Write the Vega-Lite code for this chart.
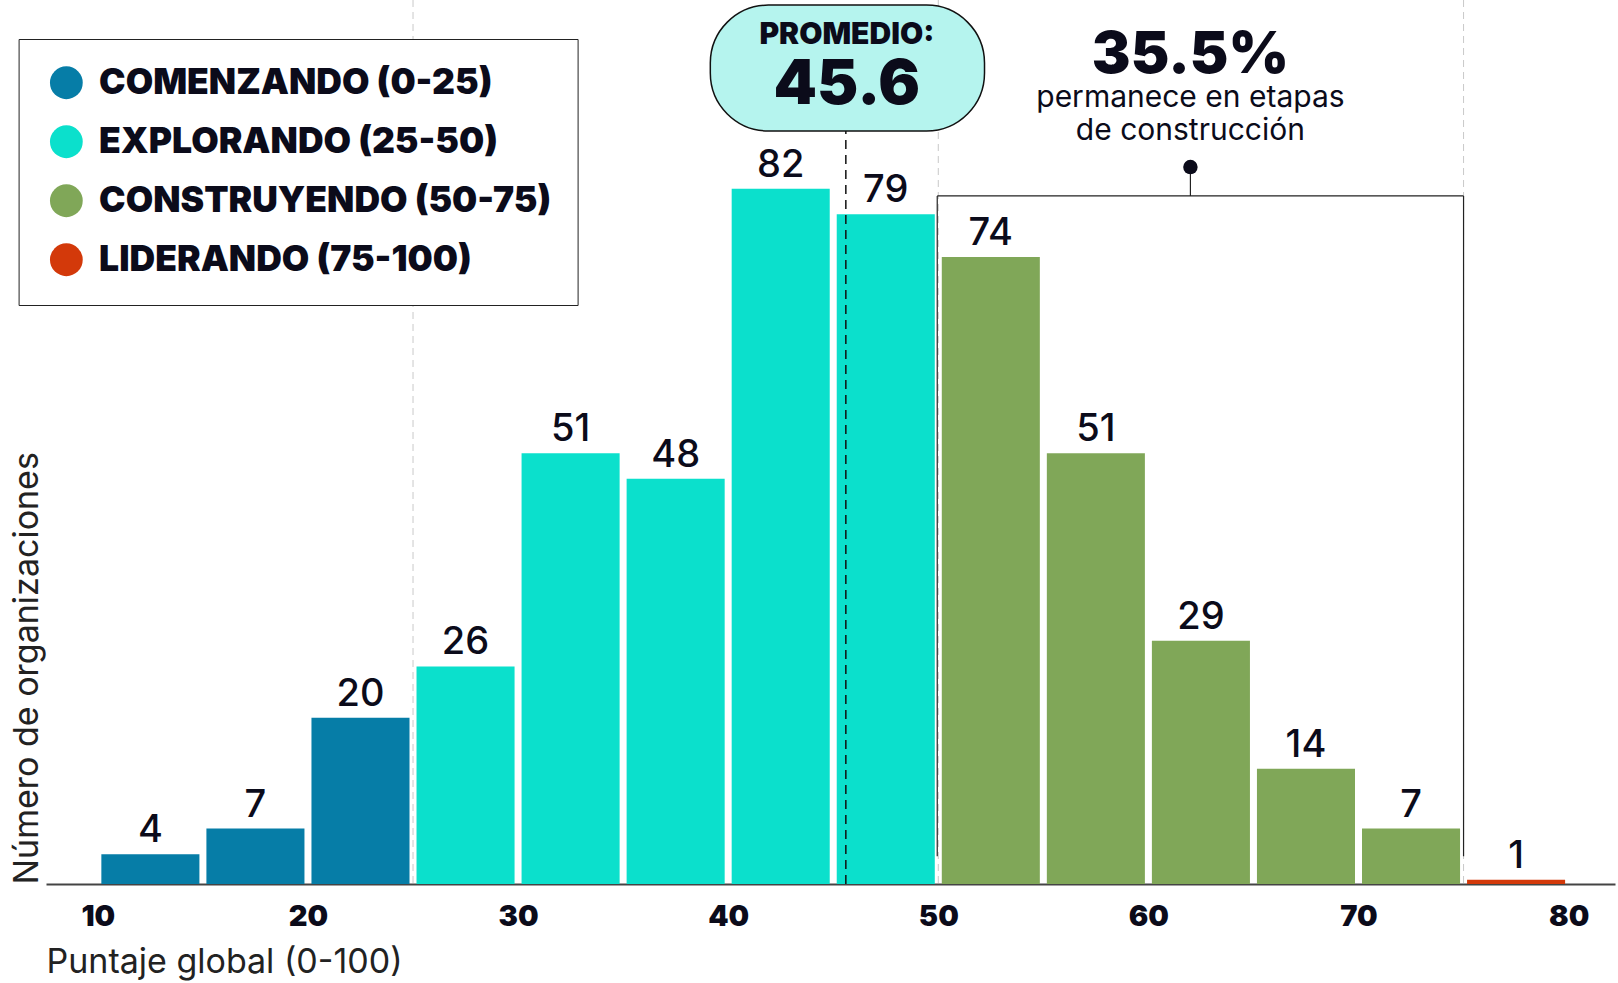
{
  "$schema": "https://vega.github.io/schema/vega-lite/v6.json",
  "autosize": {"type": "none"},
  "width": 1569,
  "height": 884,
  "padding": {"left": 46, "top": 0, "right": 3, "bottom": 99},
  "background": "white",
  "config": {
    "view": {"stroke": null},
    "font": "Inter",
    "text": {"font": "Inter", "color": "#0b0b1a"}
  },
  "datasets": {
    "bins": [
      {"inicio": 10, "fin": 15, "n": 4, "etapa": "COMENZANDO (0-25)"},
      {"inicio": 15, "fin": 20, "n": 7, "etapa": "COMENZANDO (0-25)"},
      {"inicio": 20, "fin": 25, "n": 20, "etapa": "COMENZANDO (0-25)"},
      {"inicio": 25, "fin": 30, "n": 26, "etapa": "EXPLORANDO (25-50)"},
      {"inicio": 30, "fin": 35, "n": 51, "etapa": "EXPLORANDO (25-50)"},
      {"inicio": 35, "fin": 40, "n": 48, "etapa": "EXPLORANDO (25-50)"},
      {"inicio": 40, "fin": 45, "n": 82, "etapa": "EXPLORANDO (25-50)"},
      {"inicio": 45, "fin": 50, "n": 79, "etapa": "EXPLORANDO (25-50)"},
      {"inicio": 50, "fin": 55, "n": 74, "etapa": "CONSTRUYENDO (50-75)"},
      {"inicio": 55, "fin": 60, "n": 51, "etapa": "CONSTRUYENDO (50-75)"},
      {"inicio": 60, "fin": 65, "n": 29, "etapa": "CONSTRUYENDO (50-75)"},
      {"inicio": 65, "fin": 70, "n": 14, "etapa": "CONSTRUYENDO (50-75)"},
      {"inicio": 70, "fin": 75, "n": 7, "etapa": "CONSTRUYENDO (50-75)"},
      {"inicio": 75, "fin": 80, "n": 1, "etapa": "LIDERANDO (75-100)"}
    ],
    "cortes": [{"v": 25}, {"v": 50}, {"v": 75}],
    "uno": [{}]
  },
  "layer": [
    {
      "data": {"name": "bins"},
      "mark": {"type": "bar", "orient": "vertical", "xOffset": 3.5, "x2Offset": -3.5},
      "encoding": {
        "x": {
          "field": "inicio", "type": "quantitative",
          "scale": {"domain": [7.77, 81.97], "nice": false, "zero": false},
          "axis": {
            "values": [10, 20, 30, 40, 50, 60, 70, 80],
            "ticks": false, "grid": false,
            "domainColor": "#444", "domainWidth": 2,
            "labelFontSize": 29, "labelFontWeight": 900, "labelColor": "#0b0b1a", "labelFont": "Inter",
            "labelPadding": 18,
            "title": "Puntaje global (0-100)",
            "titleFont": "Inter", "titleFontSize": 34, "titleFontWeight": 400, "titleColor": "#222",
            "titleAnchor": "start", "titlePadding": 14
          }
        },
        "x2": {"field": "fin"},
        "y": {
          "field": "n", "type": "quantitative",
          "scale": {"domain": [0.5, 104.12], "nice": false, "zero": false},
          "axis": {
            "labels": false, "ticks": false, "domain": false, "grid": false,
            "title": "Número de organizaciones",
            "titleFont": "Inter", "titleFontSize": 34, "titleFontWeight": 400, "titleColor": "#222",
            "titleAnchor": "start", "titlePadding": 2
          }
        },
        "y2": {"datum": 0.5},
        "color": {
          "field": "etapa", "type": "nominal",
          "scale": {
            "domain": ["COMENZANDO (0-25)", "EXPLORANDO (25-50)", "CONSTRUYENDO (50-75)", "LIDERANDO (75-100)"],
            "range": ["#067da7", "#0be0cc", "#80a758", "#d3390a"]
          },
          "legend": {
            "orient": "none", "legendX": -27.4, "legendY": 39,
            "title": null,
            "fillColor": "white", "strokeColor": "#222",
            "padding": 26,
            "symbolOffset": 4,
            "symbolType": "circle", "symbolSize": 1075, "symbolStrokeWidth": 0, "symbolOpacity": 1,
            "labelFont": "Inter", "labelFontSize": 35.5, "labelFontWeight": 900, "labelColor": "#0b0b1a",
            "labelOffset": 15, "rowPadding": 22, "labelLimit": 700
          }
        }
      }
    },
    {
      "data": {"name": "cortes"},
      "mark": {"type": "rule", "color": "#c9c9c9", "strokeWidth": 1, "strokeDash": [7, 5]},
      "encoding": {
        "x": {"field": "v", "type": "quantitative"}
      }
    },
    {
      "data": {"name": "bins"},
      "transform": [{"calculate": "(datum.inicio + datum.fin) / 2", "as": "centro"}],
      "mark": {"type": "text", "fontSize": 38, "fontWeight": 500, "baseline": "alphabetic", "dy": -12, "align": "center"},
      "encoding": {
        "x": {"field": "centro", "type": "quantitative"},
        "y": {"field": "n", "type": "quantitative"},
        "text": {"field": "n", "type": "quantitative"}
      }
    },
    {
      "data": {"name": "uno"},
      "mark": {"type": "rule", "color": "#111", "strokeWidth": 1.5, "strokeDash": [9, 6]},
      "encoding": {"x": {"datum": 45.6}, "y": {"datum": 0.5}, "y2": {"datum": 88.77}}
    },
    {
      "data": {"name": "uno"},
      "mark": {"type": "rule", "color": "#222", "strokeWidth": 1.2},
      "encoding": {"x": {"datum": 49.95}, "y": {"datum": 3.76}, "y2": {"datum": 81.15}}
    },
    {
      "data": {"name": "uno"},
      "mark": {"type": "rule", "color": "#222", "strokeWidth": 1.2},
      "encoding": {"x": {"datum": 75}, "y": {"datum": 3.76}, "y2": {"datum": 81.15}}
    },
    {
      "data": {"name": "uno"},
      "mark": {"type": "rule", "color": "#222", "strokeWidth": 1.2},
      "encoding": {"x": {"datum": 49.95}, "x2": {"datum": 75}, "y": {"datum": 81.15}}
    },
    {
      "data": {"name": "uno"},
      "mark": {"type": "rule", "color": "#222", "strokeWidth": 1.2},
      "encoding": {"x": {"datum": 62}, "y": {"datum": 81.15}, "y2": {"datum": 84.54}}
    },
    {
      "data": {"name": "uno"},
      "mark": {"type": "point", "filled": true, "color": "#0b0b1a", "opacity": 1, "size": 210, "shape": "circle"},
      "encoding": {"x": {"datum": 62}, "y": {"datum": 84.54}}
    },
    {
      "data": {"name": "uno"},
      "mark": {"type": "rect", "fill": "#b5f4ee", "stroke": "#111", "strokeWidth": 1.5, "cornerRadius": 58},
      "encoding": {"x": {"datum": 39.15}, "x2": {"datum": 52.2}, "y": {"datum": 88.77}, "y2": {"datum": 103.52}}
    },
    {
      "data": {"name": "uno"},
      "mark": {"type": "text", "text": "PROMEDIO:", "fontSize": 30, "fontWeight": 900, "baseline": "middle", "align": "center"},
      "encoding": {"x": {"datum": 45.65}, "y": {"datum": 100.0}}
    },
    {
      "data": {"name": "uno"},
      "mark": {"type": "text", "text": "45.6", "fontSize": 62, "fontWeight": 900, "baseline": "middle", "align": "center"},
      "encoding": {"x": {"datum": 45.65}, "y": {"datum": 94.1}}
    },
    {
      "data": {"name": "uno"},
      "mark": {"type": "text", "text": "35.5%", "fontSize": 58, "fontWeight": 900, "baseline": "middle", "align": "center"},
      "encoding": {"x": {"datum": 62}, "y": {"datum": 97.6}}
    },
    {
      "data": {"name": "uno"},
      "mark": {"type": "text", "text": "permanece en etapas", "fontSize": 30, "fontWeight": 400, "baseline": "middle", "align": "center"},
      "encoding": {"x": {"datum": 62}, "y": {"datum": 92.64}}
    },
    {
      "data": {"name": "uno"},
      "mark": {"type": "text", "text": "de construcción", "fontSize": 30, "fontWeight": 400, "baseline": "middle", "align": "center"},
      "encoding": {"x": {"datum": 62}, "y": {"datum": 88.77}}
    }
  ]
}
